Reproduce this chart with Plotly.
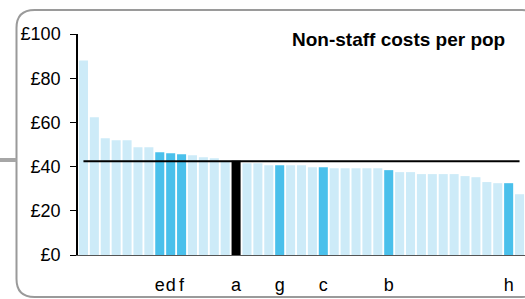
import plotly.graph_objects as go

# ---- data ----
values = [88.0, 62.3, 52.8, 51.9, 51.9, 48.8, 48.8, 46.5, 46.0, 45.6,
          45.1, 44.2, 43.8, 42.5, 42.6, 41.5, 41.5, 40.6, 40.6, 40.6,
          40.6, 39.7, 39.7, 39.3, 39.3, 39.3, 39.3, 39.3, 38.4, 37.5,
          37.5, 36.6, 36.6, 36.6, 36.6, 35.7, 35.2, 33.0, 32.5, 32.5, 27.5]
labels = ["", "", "", "", "", "", "", "e", "d", "f",
          "", "", "", "", "a", "", "", "", "g", "",
          "", "", "c", "", "", "", "", "", "b", "",
          "", "", "", "", "", "", "", "", "", "h", ""]
average = 42.4
title_text = "Non-staff costs per pop"
y_ticks = [0, 20, 40, 60, 80, 100]

LIGHT = "#CDEBF8"
DARK = "#4AC0EB"
FOCUS = "#000000"

x = list(range(len(values)))
colors = [FOCUS if l == "a" else (DARK if l else LIGHT) for l in labels]

W, H = 525, 299
ML, MR, MT, MB = 78, 0, 34, 44
PW, PH = W - ML - MR, H - MT - MB
FONT = "Liberation Sans, Arial, sans-serif"


def px_x(px):
    return (px - ML) / PW


def px_y(py):
    return (H - MB - py) / PH


fig = go.Figure()
fig.add_trace(go.Bar(x=x, y=values, marker=dict(color=colors, line=dict(width=0)),
                     showlegend=False, hoverinfo="y"))
fig.add_trace(go.Scatter(x=[x[0], x[-1]], y=[average, average], mode="lines",
                         line=dict(color="black", width=2), showlegend=False,
                         hoverinfo="skip"))

# rounded frame
L, R, T, B = px_x(16.5), px_x(540), px_y(10), px_y(297)
rx, ry = 18 / PW, 18 / PH
path = (f"M {L+rx},{T} L {R-rx},{T} Q {R},{T} {R},{T-ry} L {R},{B+ry} "
        f"Q {R},{B} {R-rx},{B} L {L+rx},{B} Q {L},{B} {L},{B+ry} "
        f"L {L},{T-ry} Q {L},{T} {L+rx},{T} Z")
shapes = [
    dict(type="path", xref="paper", yref="paper", path=path,
         line=dict(color="#9a9a9a", width=2), layer="below"),
    dict(type="line", xref="paper", yref="paper", x0=px_x(0), x1=px_x(16.5),
         y0=px_y(160), y1=px_y(160), line=dict(color="#a6a6a6", width=4),
         layer="below"),
]

fig.update_layout(
    width=W, height=H,
    margin=dict(l=ML, r=MR, t=MT, b=MB, pad=0),
    paper_bgcolor="white", plot_bgcolor="white",
    bargap=0.17,
    font=dict(family=FONT, size=18, color="black"),
    shapes=shapes,
    annotations=[dict(text=f"<b>{title_text}</b>", xref="paper", yref="paper",
                      x=px_x(507), y=px_y(39), xanchor="right", yanchor="middle",
                      showarrow=False, font=dict(family=FONT, size=19, color="black"))],
    xaxis=dict(range=[-0.5, len(values) - 0.5], tickmode="array", tickvals=x,
               ticktext=labels, showline=True, linecolor="#555555", linewidth=1,
               ticks="", showgrid=False, zeroline=False, ticklabelstandoff=13,
               tickangle=0, automargin=False,
               tickfont=dict(family=FONT, size=18)),
    yaxis=dict(range=[0, 100], tickmode="array", tickvals=y_ticks,
               ticktext=[f"£{v}" for v in y_ticks], showline=True, linecolor="black",
               linewidth=1.5, ticks="outside", ticklen=6, tickcolor="black",
               tickwidth=1, showgrid=False, zeroline=False, ticklabelstandoff=6,
               automargin=False,
               tickfont=dict(family=FONT, size=18)),
)

fig.write_html("out.html", config={"displayModeBar": False},
               post_script="document.body.style.margin='0px';")
